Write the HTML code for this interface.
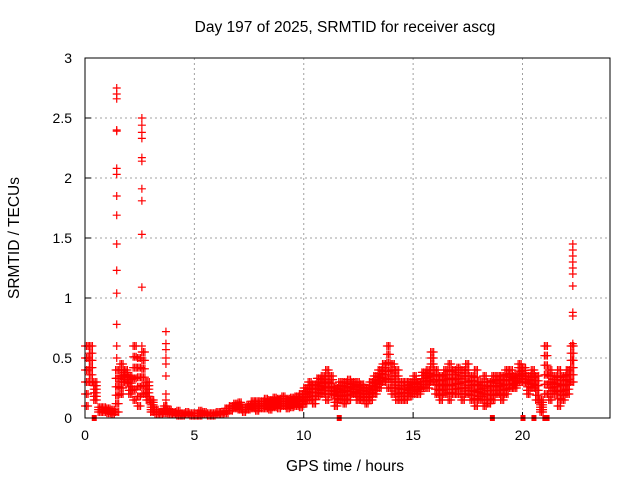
<!DOCTYPE html>
<html><head><meta charset="utf-8"><style>
body{margin:0;background:#fff}
svg text{font-family:"Liberation Sans",sans-serif;font-size:14px;fill:#000}
svg text.big{font-size:15.5px}
</style></head><body>
<svg id="chart" width="640" height="480">
<text class="big" x="345" y="32" text-anchor="middle">Day 197 of 2025, SRMTID for receiver ascg</text>
<text class="big" transform="translate(19,238) rotate(-90)" text-anchor="middle">SRMTID / TECUs</text>
<text class="big" x="345" y="471" text-anchor="middle">GPS time / hours</text>
<g id="grid"></g><g id="ticks"></g><g id="marks"></g>
<rect x="85" y="58" width="525" height="360" fill="none" stroke="#000" stroke-width="1"/>
</svg>
<script>
const xTicks=[0,5,10,15,20];
const yTicks=[0,0.5,1,1.5,2,2.5,3];
const yTickLabels=["0","0.5","1","1.5","2","2.5","3"];
const times=[0,0.2,0.4,0.6,0.8,1.0,1.2,1.4,1.6,1.8,2.0,2.2,2.4,2.6,2.8,3.0,3.2,3.4,3.6,3.8,4.0,4.2,4.4,4.6,4.8,5.0,5.2,5.4,5.6,5.8,6.0,6.2,6.4,6.6,6.8,7.0,7.2,7.4,7.6,7.8,8.0,8.2,8.4,8.6,8.8,9.0,9.2,9.4,9.6,9.8,10.0,10.2,10.4,10.6,10.8,11.0,11.2,11.4,11.6,11.8,12.0,12.2,12.4,12.6,12.8,13.0,13.2,13.4,13.6,13.8,14.0,14.2,14.4,14.6,14.8,15.0,15.2,15.4,15.6,15.8,16.0,16.2,16.4,16.6,16.8,17.0,17.2,17.4,17.6,17.8,18.0,18.2,18.4,18.6,18.8,19.0,19.2,19.4,19.6,19.8,20.0,20.2,20.4,20.6,20.8,21.0,21.2,21.4,21.6,21.8,22.0,22.2];
const lowVals=[0.1,0.3,0.15,0.05,0.05,0.04,0.03,0.05,0.2,0.3,0.2,0.15,0.1,0.2,0.15,0.05,0.03,0.03,0.04,0.03,0.03,0.02,0.02,0.03,0.02,0.02,0.02,0.03,0.02,0.02,0.03,0.03,0.04,0.06,0.08,0.07,0.05,0.07,0.08,0.06,0.08,0.08,0.07,0.09,0.08,0.1,0.08,0.09,0.1,0.09,0.12,0.15,0.12,0.18,0.2,0.15,0.2,0.1,0.15,0.12,0.15,0.2,0.15,0.15,0.12,0.15,0.2,0.25,0.3,0.25,0.2,0.15,0.15,0.15,0.18,0.2,0.2,0.25,0.25,0.3,0.2,0.15,0.2,0.15,0.2,0.2,0.15,0.2,0.15,0.1,0.15,0.1,0.12,0.15,0.2,0.15,0.2,0.25,0.25,0.3,0.3,0.2,0.25,0.15,0.05,0.2,0.15,0.2,0.1,0.15,0.2,0.3];
const highVals=[0.6,0.6,0.3,0.1,0.1,0.08,0.07,0.4,0.45,0.4,0.35,0.6,0.5,0.55,0.3,0.15,0.08,0.06,0.1,0.07,0.06,0.06,0.05,0.06,0.05,0.05,0.06,0.06,0.05,0.05,0.06,0.06,0.08,0.1,0.12,0.14,0.1,0.12,0.15,0.14,0.15,0.16,0.15,0.17,0.16,0.18,0.16,0.17,0.18,0.2,0.25,0.3,0.28,0.33,0.35,0.4,0.35,0.25,0.3,0.3,0.32,0.3,0.3,0.28,0.25,0.3,0.35,0.4,0.45,0.6,0.45,0.4,0.3,0.3,0.3,0.35,0.3,0.38,0.4,0.55,0.4,0.35,0.4,0.45,0.4,0.42,0.4,0.45,0.35,0.4,0.3,0.35,0.3,0.35,0.35,0.35,0.4,0.4,0.35,0.45,0.42,0.35,0.4,0.35,0.15,0.6,0.4,0.35,0.4,0.35,0.4,0.6];
const spikeTimes=[1.45,2.6,3.7,22.3];
const spike1=[2.75,2.7,2.66,2.4,2.39,2.08,2.03,1.85,1.69,1.45,1.23,1.04,0.78,0.6,0.5];
const spike2=[2.5,2.44,2.38,2.33,2.17,2.14,1.91,1.81,1.53,1.09,0.6,0.55];
const spike3=[0.72,0.62,0.57,0.5,0.45,0.35,0.2,0.15];
const spike4=[1.45,1.4,1.35,1.3,1.25,1.2,1.1,0.88,0.85,0.62,0.48];
const gapTimes=[0.4,11.6,18.6,20.0,20.5,21.0,21.1];
const X=t=>85+t*(525/24), Y=v=>418-v*120;
const NS="http://www.w3.org/2000/svg";
function mk(tag,attrs,parent){const e=document.createElementNS(NS,tag);for(const k in attrs)e.setAttribute(k,attrs[k]);document.getElementById(parent).appendChild(e);return e;}
xTicks.forEach(t=>{
 if(t>0){const g=mk('line',{x1:X(t),x2:X(t),y1:58,y2:418,stroke:'#a0a0a0','stroke-dasharray':'2,3'},'grid');
 
 }
 const tl=mk('line',{x1:X(t),x2:X(t),y1:418,y2:412,stroke:'#000'},'ticks');
 
 
 const tx=mk('text',{x:X(t),y:440,'text-anchor':'middle'},'ticks');tx.textContent=t;
 
 
});
yTicks.forEach((v,i)=>{
 if(v>0&&v<3){const g=mk('line',{x1:85,x2:610,y1:Y(v),y2:Y(v),stroke:'#a0a0a0','stroke-dasharray':'2,3'},'grid');
 
 }
 const tl=mk('line',{x1:85,x2:91,y1:Y(v),y2:Y(v),stroke:'#000'},'ticks');
 
 
 const tx=mk('text',{x:72,y:Y(v)+5,'text-anchor':'end'},'ticks');tx.textContent=yTickLabels[i];
 
 
});
function cross(t,v){const x=X(t),y=Y(v);
 const p=mk('path',{d:`M${x-4},${y}h8M${x},${y-4}v8`,stroke:'#f00','stroke-width':1.2},'marks');
 
 }
times.forEach((t,i)=>{
 const lo=lowVals[i],hi=highVals[i];
 for(const dt of [0,0.07,0.14]){
  let v=lo;const step=Math.max(0.02,(hi-lo)/5);
  while(v<=hi+1e-6){cross(t+dt,v);v+=step;}
 }
});
[spike1,spike2,spike3,spike4].forEach((arr,k)=>arr.forEach(v=>cross(spikeTimes[k],v)));
gapTimes.forEach(t=>{const r=mk('rect',{x:X(t)-2,y:415,width:5,height:6,fill:'#f00'},'marks');
 
 });
</script>
</body></html>
